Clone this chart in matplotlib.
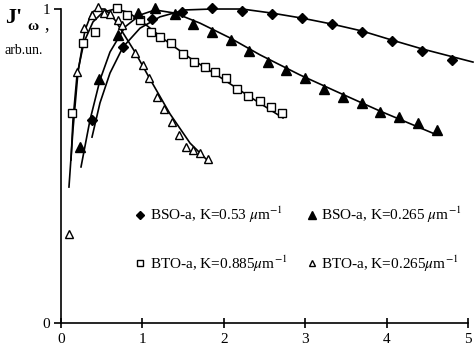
import matplotlib
matplotlib.use("Agg")
import matplotlib.pyplot as plt

plt.rcParams['font.family'] = ['Liberation Serif', 'DejaVu Serif']
plt.rcParams['mathtext.fontset'] = 'stix'

# measured points
bso053_x = [0.38, 0.76, 1.12, 1.49, 1.86, 2.22, 2.59, 2.96, 3.33, 3.70, 4.07, 4.43, 4.80]
bso053_y = [0.646, 0.879, 0.968, 0.990, 1.003, 0.994, 0.984, 0.971, 0.952, 0.927, 0.898, 0.866, 0.838]

bso0265_x = [0.23, 0.47, 0.70, 0.95, 1.16, 1.40, 1.62, 1.86, 2.09, 2.31, 2.54, 2.76, 3.00,
             3.23, 3.46, 3.70, 3.92, 4.15, 4.39, 4.62]
bso0265_y = [0.561, 0.777, 0.917, 0.987, 1.003, 0.984, 0.952, 0.927, 0.901, 0.866, 0.831,
             0.806, 0.780, 0.745, 0.720, 0.701, 0.672, 0.656, 0.637, 0.615]

bto0885_x = [0.135, 0.27, 0.42, 0.69, 0.81, 0.97, 1.10, 1.22, 1.35, 1.50, 1.63, 1.77, 1.89,
             2.03, 2.16, 2.30, 2.44, 2.58, 2.71]
bto0885_y = [0.669, 0.892, 0.927, 1.003, 0.981, 0.965, 0.927, 0.911, 0.892, 0.857, 0.831,
             0.815, 0.799, 0.780, 0.745, 0.723, 0.707, 0.688, 0.669]

bto0265_x = [0.098, 0.197, 0.283, 0.381, 0.455, 0.528, 0.602, 0.700, 0.749, 0.909, 1.007,
             1.081, 1.179, 1.265, 1.364, 1.450, 1.536, 1.622, 1.708, 1.806]
bto0265_y = [0.283, 0.799, 0.939, 0.981, 1.006, 0.987, 0.984, 0.965, 0.949, 0.860, 0.822,
             0.780, 0.720, 0.682, 0.640, 0.599, 0.561, 0.551, 0.541, 0.522]

# fitted curves
fit_bso053_x = [0.381, 0.479, 0.602, 0.762, 0.971, 1.216, 1.523, 1.855, 2.224, 2.592, 2.961,
                3.329, 3.698, 4.066, 4.435, 5.061]
fit_bso053_y = [0.592, 0.701, 0.796, 0.879, 0.939, 0.975, 0.997, 1.0, 1.0, 0.987, 0.971,
                0.952, 0.930, 0.901, 0.873, 0.831]

fit_bso0265_x = [0.246, 0.356, 0.479, 0.602, 0.786, 0.971, 1.155, 1.400, 1.708, 2.076, 2.445,
                 2.936, 3.428, 3.919, 4.619]
fit_bso0265_y = [0.497, 0.646, 0.774, 0.863, 0.943, 0.981, 0.997, 0.987, 0.955, 0.908, 0.854,
                 0.790, 0.732, 0.675, 0.599]

fit_bto0885_x = [0.123, 0.147, 0.197, 0.283, 0.393, 0.516, 0.663, 0.823, 1.032, 1.278, 1.585,
                 1.953, 2.322, 2.727]
fit_bto0885_y = [0.519, 0.646, 0.790, 0.895, 0.959, 0.990, 1.0, 0.990, 0.952, 0.901, 0.844,
                 0.783, 0.720, 0.653]

fit_bto0265_x = [0.098, 0.147, 0.209, 0.295, 0.381, 0.455, 0.541, 0.663, 0.786, 0.909, 1.093,
                 1.339, 1.585, 1.830]
fit_bto0265_y = [0.433, 0.615, 0.799, 0.933, 0.990, 1.0, 1.0, 0.965, 0.914, 0.863, 0.777,
                 0.666, 0.573, 0.510]

labels = [r'BSO-a, K=0.53 $\mu$m$^{-1}$', r'BTO-a, K=0.885$\mu$m$^{-1}$',
          r'BSO-a, K=0.265 $\mu$m$^{-1}$', r'BTO-a, K=0.265$\mu$m$^{-1}$']

fig = plt.figure(figsize=(4.75, 3.52), dpi=100)
ax = fig.add_axes([0.1284, 0.0824, 0.8569, 0.892])

lw = 1.2
for fx, fy in [(fit_bso053_x, fit_bso053_y), (fit_bso0265_x, fit_bso0265_y),
               (fit_bto0885_x, fit_bto0885_y), (fit_bto0265_x, fit_bto0265_y)]:
    ax.plot(fx, fy, color='black', lw=lw, clip_on=False)

h1, = ax.plot(bso053_x, bso053_y, 'D', ms=5.2, color='black', clip_on=False)
h2, = ax.plot(bto0885_x, bto0885_y, 's', ms=5.5, mfc='white', mec='black', mew=1.0, clip_on=False)
h3, = ax.plot(bso0265_x, bso0265_y, '^', ms=6.5, color='black', clip_on=False)
h4, = ax.plot(bto0265_x, bto0265_y, '^', ms=5.5, mfc='white', mec='black', mew=1.0, clip_on=False)

ax.legend([h1, h2, h3, h4], labels, ncol=2, frameon=False, fontsize=11,
          loc='upper left', bbox_to_anchor=(0.15, 0.42), handlelength=0.6,
          handletextpad=0.3, labelspacing=1.85, columnspacing=1.3, markerscale=0.8)

ax.set_xlim(0, 5)
ax.set_ylim(0, 1)
ax.set_xticks([0, 1, 2, 3, 4, 5])
ax.set_yticks([0, 1])
ax.spines['top'].set_visible(False)
ax.spines['right'].set_visible(False)
for s in ['left', 'bottom']:
    ax.spines[s].set_linewidth(1.2)
ax.tick_params(axis='x', direction='inout', length=7, width=1.2, labelsize=11, pad=4)
ax.tick_params(axis='y', direction='out', length=5, width=1.2, labelsize=11, pad=3)

fig.text(0.01, 0.978, "J'", fontsize=16, fontweight='bold', va='top', ha='left')
fig.text(0.058, 0.942, "\u03c9", fontsize=11, fontweight='bold', va='top', ha='left')
fig.text(0.093, 0.955, ",", fontsize=13, va='top', ha='left')
fig.text(0.01, 0.875, "arb.un.", fontsize=10, va='top', ha='left')

fig.savefig('out.png', dpi=100)
